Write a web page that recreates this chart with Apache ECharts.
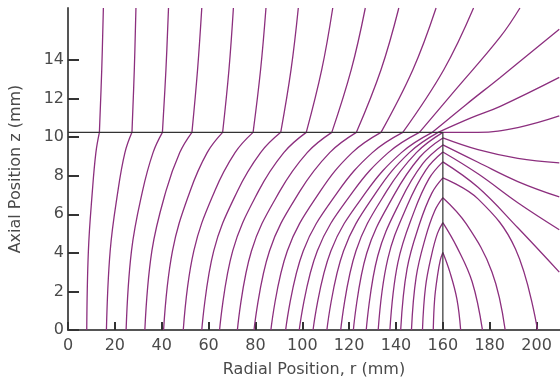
<!DOCTYPE html>
<html>
<head>
<meta charset="utf-8">
<script src="https://cdn.jsdelivr.net/npm/echarts@6/dist/echarts.min.js"></script>
<style>
  html, body { margin: 0; padding: 0; background: #fff; }
  #chart { width: 560px; height: 383px; }
</style>
</head>
<body>
<div id="chart"></div>
<script>
// tick values shown on the axes
const xTickValues = [0, 20, 40, 60, 80, 100, 120, 140, 160, 180, 200]
const yTickValues = [0, 2, 4, 6, 8, 10, 12, 14]

// outline of the disc: top face z = 10.25, rim r = 160
const boundary = [[0, 10.25], [160, 10.25], [160, 0]]

// field lines inside the disc, [r, z], bottom to exit
const lowerLines = [
  [[8.0, 0], [8.7, 4.1], [10.4, 7.2], [11.9, 9.2], [13.4, 10.25]],
  [[16.4, 0], [18.0, 4.1], [21.3, 7.2], [24.3, 9.2], [27.3, 10.25]],
  [[24.8, 0], [27.1, 4.1], [31.8, 7.2], [36.3, 9.2], [40.3, 10.25]],
  [[32.8, 0], [35.8, 4.1], [41.8, 7.2], [47.7, 9.2], [52.9, 10.25]],
  [[40.8, 0], [44.6, 4.1], [52.1, 7.2], [59.4, 9.2], [66.0, 10.25]],
  [[49.2, 0], [53.7, 4.1], [62.6, 7.2], [71.3, 9.2], [79.0, 10.25]],
  [[57.1, 0], [62.2, 4.1], [72.3, 7.2], [82.2, 9.2], [90.8, 10.25]],
  [[64.7, 0], [70.3, 4.1], [81.3, 7.2], [92.1, 9.2], [101.7, 10.25]],
  [[72.3, 0], [78.3, 4.1], [90.4, 7.2], [102.1, 9.2], [112.6, 10.25]],
  [[79.4, 0], [86.0, 4.1], [99.0, 7.2], [111.7, 9.2], [123.1, 10.25]],
  [[86.6, 0], [93.6, 4.1], [107.7, 7.2], [121.3, 9.2], [133.6, 10.25]],
  [[92.9, 0], [100.4, 4.1], [115.4, 7.2], [129.9, 9.2], [142.9, 10.25]],
  [[98.7, 0], [106.4, 4.1], [121.8, 7.2], [136.7, 9.2], [150.0, 10.25]],
  [[104.6, 0], [112.2, 4.1], [127.5, 7.2], [142.3, 9.2], [155.5, 10.25]],
  [[110.5, 0], [117.6, 4.1], [131.9, 7.2], [145.7, 9.2], [158.0, 10.25]],
  [[116.4, 0], [122.9, 4.1], [136.0, 7.2], [148.7, 9.2], [160, 10.25]],
  [[121.8, 0], [127.5, 3.98], [139.0, 6.97], [150.1, 8.96], [160, 9.96]],
  [[127.3, 0], [132.2, 3.84], [142.0, 6.72], [151.5, 8.64], [160, 9.6]],
  [[132.4, 0], [136.5, 3.69], [144.8, 6.46], [152.8, 8.31], [160, 9.23]],
  [[137.4, 0], [140.8, 3.49], [147.6, 6.1], [154.1, 7.85], [160, 8.72]],
  [[142.0, 0], [144.7, 3.16], [150.1, 5.52], [155.3, 7.1], [160, 7.89]],
  [[146.6, 0], [148.6, 2.74], [152.6, 4.8], [156.5, 6.17], [160, 6.86]],
  [[151.3, 0], [152.6, 2.23], [155.2, 3.9], [157.7, 5.01], [160, 5.57]],
  [[155.9, 0], [156.5, 1.61], [157.7, 2.81], [158.9, 3.62], [160, 4.02]]
]

// field lines above the top face
const upperLines = [
  [[13.4, 10.25], [14.4, 13.5], [15.1, 16.7]],
  [[27.3, 10.25], [28.3, 13.5], [29.0, 16.7]],
  [[40.3, 10.25], [41.8, 13.5], [42.9, 16.7]],
  [[52.9, 10.25], [55.3, 13.5], [57.1, 16.7]],
  [[66.0, 10.25], [68.7, 13.5], [70.6, 16.7]],
  [[79.0, 10.25], [82.2, 13.5], [84.5, 16.7]],
  [[90.8, 10.25], [95.2, 13.5], [98.3, 16.7]],
  [[101.7, 10.25], [108.3, 13.5], [113.0, 16.7]],
  [[112.6, 10.25], [120.9, 13.5], [126.9, 16.7]],
  [[123.1, 10.25], [133.6, 13.5], [141.2, 16.7]],
  [[133.6, 10.25], [147.2, 13.5], [157.1, 16.7]],
  [[142.9, 10.25], [160.4, 13.5], [173.1, 16.7]],
  [[150.0, 10.25], [165.0, 12.4], [184.5, 15.2], [192.9, 16.7]],
  [[155.5, 10.25], [170.0, 11.7], [184.5, 13.1], [209.7, 15.6]],
  [[158.0, 10.25], [172.0, 11.0], [184.5, 11.6], [209.7, 13.1]],
  [[160, 10.25], [175.0, 10.25], [192.0, 10.5], [209.7, 11.1]]
]

// field lines leaving the rim
const sideLines = [
  [[160, 9.96], [175, 9.35], [192, 8.9], [209.7, 8.67]],
  [[160, 9.6], [175, 8.7], [192, 7.7], [209.7, 6.9]],
  [[160, 9.23], [175, 8.1], [192, 6.6], [209.7, 5.2]],
  [[160, 8.72], [175, 7.4], [192, 5.3], [209.7, 3.0]],
  [[160, 7.89], [175, 6.8], [191, 4.2], [200.4, 0]],
  [[160, 6.86], [170, 5.5], [181, 3.0], [186.6, 0]],
  [[160, 5.57], [166, 4.3], [172.5, 2.5], [176.9, 0]],
  [[160, 4.02], [163, 3.0], [166, 1.6], [167.6, 0]]
]

const lineColor = '#8c2f7e'
const textColor = '#4a4a4a'
const fontFamily = 'DejaVu Sans, Liberation Sans, sans-serif'

const fieldSeries = [...lowerLines, ...upperLines, ...sideLines].map(pts => ({
  type: 'line',
  data: pts,
  smooth: 0.4,
  symbol: 'none',
  lineStyle: { color: lineColor, width: 1.3 },
  z: 2
}))

const chart = echarts.init(document.getElementById('chart'))

chart.setOption({
  animation: false,
  grid: { left: 61, top: 8, width: 500, height: 323 },
  xAxis: {
    type: 'value',
    min: 0,
    max: 210,
    interval: 20,
    name: 'Radial Position, r (mm)',
    nameLocation: 'middle',
    nameGap: 32,
    nameTextStyle: { color: textColor, fontSize: 16, fontFamily },
    axisLine: { lineStyle: { color: '#555', width: 2 } },
    axisTick: { inside: true, length: 8, lineStyle: { color: '#333', width: 2 }, customValues: xTickValues },
    axisLabel: { color: textColor, fontSize: 16, fontFamily, margin: 8, customValues: xTickValues },
    splitLine: { show: false }
  },
  yAxis: {
    type: 'value',
    min: 0,
    max: 16.7,
    interval: 2,
    name: 'Axial Position z (mm)',
    nameLocation: 'middle',
    nameGap: 44,
    nameTextStyle: { color: textColor, fontSize: 16, fontFamily },
    axisLine: { lineStyle: { color: '#555', width: 2 } },
    axisTick: { inside: true, length: 11, lineStyle: { color: '#333', width: 2 }, customValues: yTickValues },
    axisLabel: { color: textColor, fontSize: 16, fontFamily, margin: 4, customValues: yTickValues },
    splitLine: { show: false }
  },
  series: [
    ...fieldSeries,
    {
      type: 'line',
      data: boundary,
      symbol: 'none',
      lineStyle: { color: '#333', width: 1.2 },
      z: 3
    }
  ]
})
</script>
</body>
</html>
